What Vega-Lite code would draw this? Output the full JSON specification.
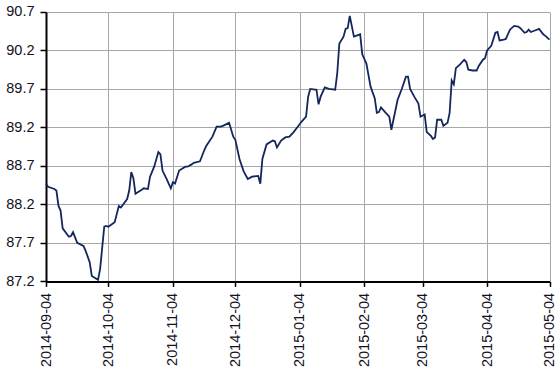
{
  "$schema": "https://vega.github.io/schema/vega-lite/v6.json",
  "width": 503.5,
  "height": 269.4,
  "autosize": {"type": "none"},
  "padding": {"left": 46, "top": 12, "right": 10, "bottom": 90},
  "background": "white",
  "config": {
    "view": {"stroke": null},
    "axis": {
      "labelFont": "Liberation Sans",
      "labelFontSize": 14.5,
      "labelColor": "#111122",
      "domainColor": "#000000",
      "domainWidth": 2,
      "tickColor": "#000000",
      "tickWidth": 1.5,
      "tickSize": 6,
      "gridColor": "#a6a6a6",
      "gridWidth": 1,
      "gridOpacity": 1
    }
  },
  "data": {
    "values": [
      {"date": "2014-09-04", "value": 88.47},
      {"date": "2014-09-05", "value": 88.43},
      {"date": "2014-09-08", "value": 88.40},
      {"date": "2014-09-09", "value": 88.38},
      {"date": "2014-09-10", "value": 88.18},
      {"date": "2014-09-11", "value": 88.12},
      {"date": "2014-09-12", "value": 87.89},
      {"date": "2014-09-15", "value": 87.78},
      {"date": "2014-09-16", "value": 87.79},
      {"date": "2014-09-17", "value": 87.84},
      {"date": "2014-09-19", "value": 87.70},
      {"date": "2014-09-22", "value": 87.66},
      {"date": "2014-09-23", "value": 87.60},
      {"date": "2014-09-25", "value": 87.45},
      {"date": "2014-09-26", "value": 87.27},
      {"date": "2014-09-29", "value": 87.22},
      {"date": "2014-09-30", "value": 87.36},
      {"date": "2014-10-02", "value": 87.91},
      {"date": "2014-10-03", "value": 87.92},
      {"date": "2014-10-04", "value": 87.91},
      {"date": "2014-10-07", "value": 87.97},
      {"date": "2014-10-09", "value": 88.18},
      {"date": "2014-10-10", "value": 88.16},
      {"date": "2014-10-13", "value": 88.27},
      {"date": "2014-10-14", "value": 88.38},
      {"date": "2014-10-15", "value": 88.62},
      {"date": "2014-10-16", "value": 88.54},
      {"date": "2014-10-17", "value": 88.34},
      {"date": "2014-10-20", "value": 88.39},
      {"date": "2014-10-21", "value": 88.41},
      {"date": "2014-10-23", "value": 88.40},
      {"date": "2014-10-24", "value": 88.56},
      {"date": "2014-10-26", "value": 88.69},
      {"date": "2014-10-28", "value": 88.88},
      {"date": "2014-10-29", "value": 88.85},
      {"date": "2014-10-30", "value": 88.64},
      {"date": "2014-11-01", "value": 88.53},
      {"date": "2014-11-03", "value": 88.41},
      {"date": "2014-11-04", "value": 88.49},
      {"date": "2014-11-05", "value": 88.47},
      {"date": "2014-11-07", "value": 88.64},
      {"date": "2014-11-10", "value": 88.69},
      {"date": "2014-11-11", "value": 88.69},
      {"date": "2014-11-13", "value": 88.72},
      {"date": "2014-11-14", "value": 88.74},
      {"date": "2014-11-17", "value": 88.76},
      {"date": "2014-11-19", "value": 88.90},
      {"date": "2014-11-20", "value": 88.96},
      {"date": "2014-11-23", "value": 89.08},
      {"date": "2014-11-25", "value": 89.21},
      {"date": "2014-11-27", "value": 89.21},
      {"date": "2014-11-28", "value": 89.22},
      {"date": "2014-12-01", "value": 89.26},
      {"date": "2014-12-03", "value": 89.08},
      {"date": "2014-12-04", "value": 89.04},
      {"date": "2014-12-06", "value": 88.79},
      {"date": "2014-12-08", "value": 88.63},
      {"date": "2014-12-10", "value": 88.53},
      {"date": "2014-12-12", "value": 88.56},
      {"date": "2014-12-15", "value": 88.57},
      {"date": "2014-12-16", "value": 88.47},
      {"date": "2014-12-17", "value": 88.79},
      {"date": "2014-12-19", "value": 88.98},
      {"date": "2014-12-22", "value": 89.03},
      {"date": "2014-12-23", "value": 89.02},
      {"date": "2014-12-24", "value": 88.94},
      {"date": "2014-12-26", "value": 89.03},
      {"date": "2014-12-28", "value": 89.07},
      {"date": "2014-12-30", "value": 89.08},
      {"date": "2015-01-01", "value": 89.14},
      {"date": "2015-01-03", "value": 89.21},
      {"date": "2015-01-05", "value": 89.28},
      {"date": "2015-01-07", "value": 89.34},
      {"date": "2015-01-08", "value": 89.60},
      {"date": "2015-01-09", "value": 89.70},
      {"date": "2015-01-12", "value": 89.69},
      {"date": "2015-01-13", "value": 89.50},
      {"date": "2015-01-14", "value": 89.60},
      {"date": "2015-01-16", "value": 89.72},
      {"date": "2015-01-18", "value": 89.70},
      {"date": "2015-01-21", "value": 89.69},
      {"date": "2015-01-22", "value": 89.91},
      {"date": "2015-01-23", "value": 90.29},
      {"date": "2015-01-25", "value": 90.38},
      {"date": "2015-01-26", "value": 90.48},
      {"date": "2015-01-27", "value": 90.49},
      {"date": "2015-01-28", "value": 90.65},
      {"date": "2015-01-30", "value": 90.38},
      {"date": "2015-02-02", "value": 90.41},
      {"date": "2015-02-03", "value": 90.15},
      {"date": "2015-02-05", "value": 90.03},
      {"date": "2015-02-07", "value": 89.73},
      {"date": "2015-02-09", "value": 89.58},
      {"date": "2015-02-10", "value": 89.39},
      {"date": "2015-02-11", "value": 89.40},
      {"date": "2015-02-12", "value": 89.46},
      {"date": "2015-02-14", "value": 89.40},
      {"date": "2015-02-16", "value": 89.34},
      {"date": "2015-02-17", "value": 89.17},
      {"date": "2015-02-19", "value": 89.43},
      {"date": "2015-02-20", "value": 89.56},
      {"date": "2015-02-22", "value": 89.70},
      {"date": "2015-02-24", "value": 89.86},
      {"date": "2015-02-25", "value": 89.86},
      {"date": "2015-02-26", "value": 89.70},
      {"date": "2015-02-28", "value": 89.60},
      {"date": "2015-03-02", "value": 89.51},
      {"date": "2015-03-03", "value": 89.34},
      {"date": "2015-03-05", "value": 89.37},
      {"date": "2015-03-06", "value": 89.14},
      {"date": "2015-03-08", "value": 89.09},
      {"date": "2015-03-09", "value": 89.05},
      {"date": "2015-03-10", "value": 89.07},
      {"date": "2015-03-11", "value": 89.30},
      {"date": "2015-03-13", "value": 89.30},
      {"date": "2015-03-14", "value": 89.22},
      {"date": "2015-03-16", "value": 89.26},
      {"date": "2015-03-17", "value": 89.39},
      {"date": "2015-03-18", "value": 89.81},
      {"date": "2015-03-19", "value": 89.76},
      {"date": "2015-03-20", "value": 89.97},
      {"date": "2015-03-22", "value": 90.02},
      {"date": "2015-03-24", "value": 90.08},
      {"date": "2015-03-25", "value": 90.05},
      {"date": "2015-03-26", "value": 89.95},
      {"date": "2015-03-28", "value": 89.94},
      {"date": "2015-03-30", "value": 89.94},
      {"date": "2015-03-31", "value": 90.00},
      {"date": "2015-04-02", "value": 90.08},
      {"date": "2015-04-03", "value": 90.10},
      {"date": "2015-04-04", "value": 90.20},
      {"date": "2015-04-06", "value": 90.26},
      {"date": "2015-04-08", "value": 90.43},
      {"date": "2015-04-09", "value": 90.44},
      {"date": "2015-04-10", "value": 90.33},
      {"date": "2015-04-12", "value": 90.34},
      {"date": "2015-04-13", "value": 90.35},
      {"date": "2015-04-15", "value": 90.47},
      {"date": "2015-04-17", "value": 90.52},
      {"date": "2015-04-19", "value": 90.51},
      {"date": "2015-04-20", "value": 90.49},
      {"date": "2015-04-22", "value": 90.43},
      {"date": "2015-04-23", "value": 90.44},
      {"date": "2015-04-24", "value": 90.47},
      {"date": "2015-04-25", "value": 90.44},
      {"date": "2015-04-27", "value": 90.46},
      {"date": "2015-04-29", "value": 90.48},
      {"date": "2015-05-01", "value": 90.41},
      {"date": "2015-05-02", "value": 90.39},
      {"date": "2015-05-04", "value": 90.34}
    ]
  },
  "mark": {"type": "line", "color": "#13275c", "strokeWidth": 1.8, "interpolate": "linear"},
  "encoding": {
    "x": {
      "field": "date",
      "type": "temporal",
      "scale": {
        "type": "utc",
        "domain": [
          {"year": 2014, "month": 9, "date": 4, "utc": true},
          {"year": 2015, "month": 5, "date": 4, "utc": true}
        ]
      },
      "axis": {
        "title": null,
        "values": [
          {"year": 2014, "month": 9, "date": 4, "utc": true},
          {"year": 2014, "month": 10, "date": 4, "utc": true},
          {"year": 2014, "month": 11, "date": 4, "utc": true},
          {"year": 2014, "month": 12, "date": 4, "utc": true},
          {"year": 2015, "month": 1, "date": 4, "utc": true},
          {"year": 2015, "month": 2, "date": 4, "utc": true},
          {"year": 2015, "month": 3, "date": 4, "utc": true},
          {"year": 2015, "month": 4, "date": 4, "utc": true},
          {"year": 2015, "month": 5, "date": 4, "utc": true}
        ],
        "format": "%Y-%m-%d",
        "labelAngle": -90,
        "tickSize": 5,
        "labelPadding": 6,
        "labelFlush": false,
        "labelOverlap": false,
        "grid": true
      }
    },
    "y": {
      "field": "value",
      "type": "quantitative",
      "scale": {"domain": [87.2, 90.7], "nice": false, "zero": false},
      "axis": {
        "title": null,
        "values": [87.2, 87.7, 88.2, 88.7, 89.2, 89.7, 90.2, 90.7],
        "format": ".1f",
        "labelPadding": 6,
        "labelFlush": false,
        "grid": true
      }
    }
  }
}
